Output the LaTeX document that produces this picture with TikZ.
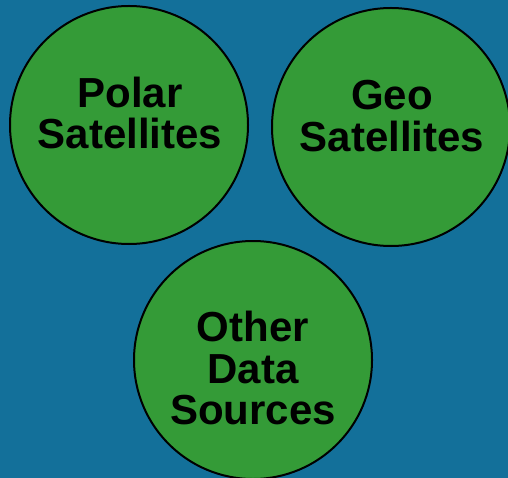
\documentclass[tikz,border=0pt]{standalone}
\usepackage{fontspec}
\setmainfont{Liberation Sans}
\definecolor{bgblue}{HTML}{13709A}
\definecolor{satgreen}{HTML}{349B37}

\begin{document}
\begin{tikzpicture}[x=1pt,y=-1pt,
        src/.style={circle,draw=black,line width=2pt,fill=satgreen,minimum size=238pt,inner sep=0pt},
        lbl/.style={align=center,inner sep=0pt,font=\fontsize{42}{41.5}\selectfont\bfseries}]
    \clip (0,0) rectangle (508,478);
    \fill[bgblue] (0,0) rectangle (508,478);
    \node[src] (polar) at (129,125) {};
    \node[src] (geo) at (391,127) {};
    \node[src] (other) at (253,360) {};
    \node[lbl] (polartxt) at (130,113) {Polar\\Satellites};
    \node[lbl] (geotxt) at (392,116) {Geo\\Satellites};
    \node[lbl] (othertxt) at (253,368) {Other\\Data\\Sources};
\end{tikzpicture}
\end{document}
